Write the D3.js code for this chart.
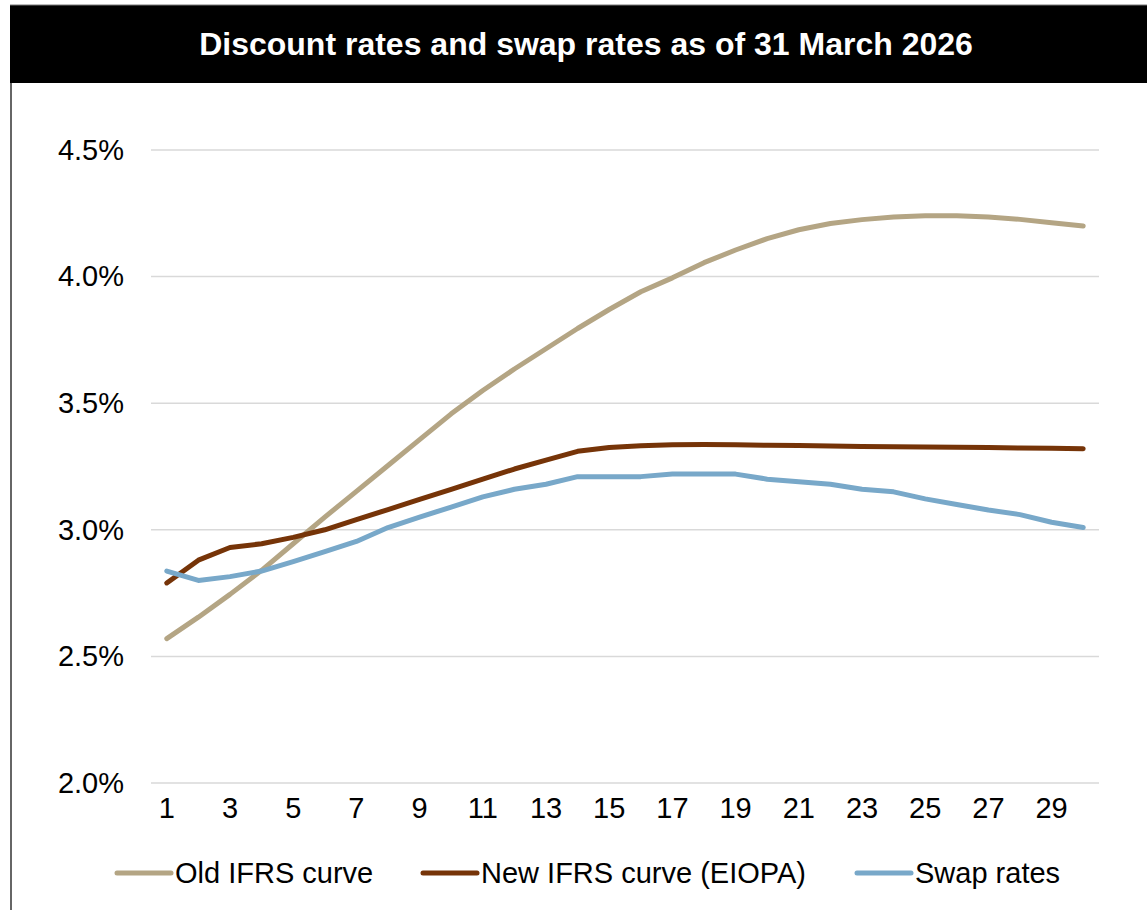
<!DOCTYPE html>
<html>
<head>
<meta charset="utf-8">
<script src="https://cdn.jsdelivr.net/npm/d3@7"></script>
<style>
  body { margin: 0; background: #fff; }
  svg { display: block; font-family: Arial, "Liberation Sans", sans-serif; }
</style>
</head>
<body>
<svg id="chart" width="1147" height="910"></svg>
<script>
const maturities = d3.range(1, 31)
const yTicks = [0.020, 0.025, 0.030, 0.035, 0.040, 0.045]
const xTickLabels = d3.range(1, 30, 2)

// rates in %
const oldIfrs = [2.57, 2.655, 2.745, 2.84, 2.945, 3.05, 3.152, 3.254, 3.356, 3.458,
  3.55, 3.635, 3.715, 3.795, 3.87, 3.94, 3.995, 4.055, 4.105, 4.15,
  4.185, 4.21, 4.225, 4.235, 4.24, 4.24, 4.235, 4.226, 4.213, 4.20]
const newIfrs = [2.79, 2.88, 2.93, 2.945, 2.97, 3.0, 3.04, 3.08, 3.12, 3.16,
  3.20, 3.24, 3.275, 3.31, 3.325, 3.332, 3.336, 3.337, 3.336, 3.334,
  3.333, 3.331, 3.329, 3.328, 3.327, 3.326, 3.325, 3.323, 3.322, 3.32]
const swapRates = [2.837, 2.80, 2.815, 2.837, 2.874, 2.914, 2.954, 3.009, 3.05, 3.09,
  3.13, 3.16, 3.18, 3.21, 3.21, 3.21, 3.22, 3.22, 3.22, 3.20,
  3.19, 3.18, 3.16, 3.15, 3.122, 3.10, 3.078, 3.06, 3.03, 3.009]

const seriesNames = ['Old IFRS curve', 'New IFRS curve (EIOPA)', 'Swap rates']
const seriesColors = ['#b4a584', '#763408', '#78a8c9']

const series = [oldIfrs, newIfrs, swapRates].map((vals, i) => ({
  name: seriesNames[i],
  color: seriesColors[i],
  values: vals.map((v, j) => ({ m: maturities[j], r: v / 100 })),
}))

const svg = d3.select('#chart')

// frame + title bar
svg.append('line')
  .attr('x1', 11).attr('x2', 11).attr('y1', 83).attr('y2', 910)
  .attr('stroke', '#333').attr('stroke-width', 1.5)
svg.append('rect')
  .attr('x', 10).attr('y', 5).attr('width', 1137).attr('height', 78)
  .attr('fill', '#000')
svg.append('line')
  .attr('x1', 10).attr('x2', 1147).attr('y1', 5).attr('y2', 5)
  .attr('stroke', '#777').attr('stroke-width', 1)
svg.append('text')
  .attr('x', 586).attr('y', 55)
  .attr('text-anchor', 'middle')
  .attr('fill', '#fff')
  .attr('font-size', 32)
  .attr('font-weight', 'bold')
  .text('Discount rates and swap rates as of 31 March 2026')

const x = d3.scaleBand()
  .domain(maturities)
  .range([151, 1099])

const y = d3.scaleLinear()
  .domain([0.02, 0.045])
  .range([783, 150])

// gridlines
svg.append('g')
  .attr('class', 'grid')
  .selectAll('line')
  .data(yTicks)
  .enter()
  .append('line')
  .attr('x1', 151)
  .attr('x2', 1099)
  .attr('y1', (d) => y(d))
  .attr('y2', (d) => y(d))
  .attr('stroke', '#d9d9d9')
  .attr('stroke-width', 1.5)

// y axis labels
const yAxis = svg.append('g')
  .attr('transform', 'translate(124,0)')
  .call(d3.axisLeft(y).tickValues(yTicks).tickFormat(d3.format('.1%')).tickSize(0).tickPadding(0))
yAxis.select('.domain').remove()
yAxis.selectAll('text')
  .attr('font-size', 29)
  .attr('font-family', 'Arial, "Liberation Sans", sans-serif')
  .attr('fill', '#000')

// x axis labels
const xAxis = svg.append('g')
  .attr('transform', 'translate(0,797)')
  .call(d3.axisBottom(x).tickValues(xTickLabels).tickSize(0).tickPadding(0))
xAxis.select('.domain').remove()
xAxis.selectAll('text')
  .attr('font-size', 29)
  .attr('font-family', 'Arial, "Liberation Sans", sans-serif')
  .attr('fill', '#000')

const line = d3.line()
  .x((d) => x(d.m) + x.bandwidth() / 2)
  .y((d) => y(d.r))

svg.append('g')
  .attr('class', 'lines')
  .selectAll('path')
  .data(series)
  .enter()
  .append('path')
  .attr('d', (d) => line(d.values))
  .attr('fill', 'none')
  .attr('stroke', (d) => d.color)
  .attr('stroke-width', 5)
  .attr('stroke-linejoin', 'round')
  .attr('stroke-linecap', 'round')

// legend
const legendX = [117, 423, 857]
const legend = svg.append('g')
  .attr('class', 'legend')
  .selectAll('g')
  .data(series)
  .enter()
  .append('g')
  .attr('transform', (d, i) => `translate(${legendX[i]},873)`)
legend.append('line')
  .attr('x1', 0).attr('x2', 54).attr('y1', 0).attr('y2', 0)
  .attr('stroke', (d) => d.color)
  .attr('stroke-width', 5)
  .attr('stroke-linecap', 'round')
legend.append('text')
  .attr('x', 58)
  .attr('y', 10)
  .attr('font-size', 29)
  .attr('fill', '#000')
  .text((d) => d.name)
</script>
</body>
</html>
